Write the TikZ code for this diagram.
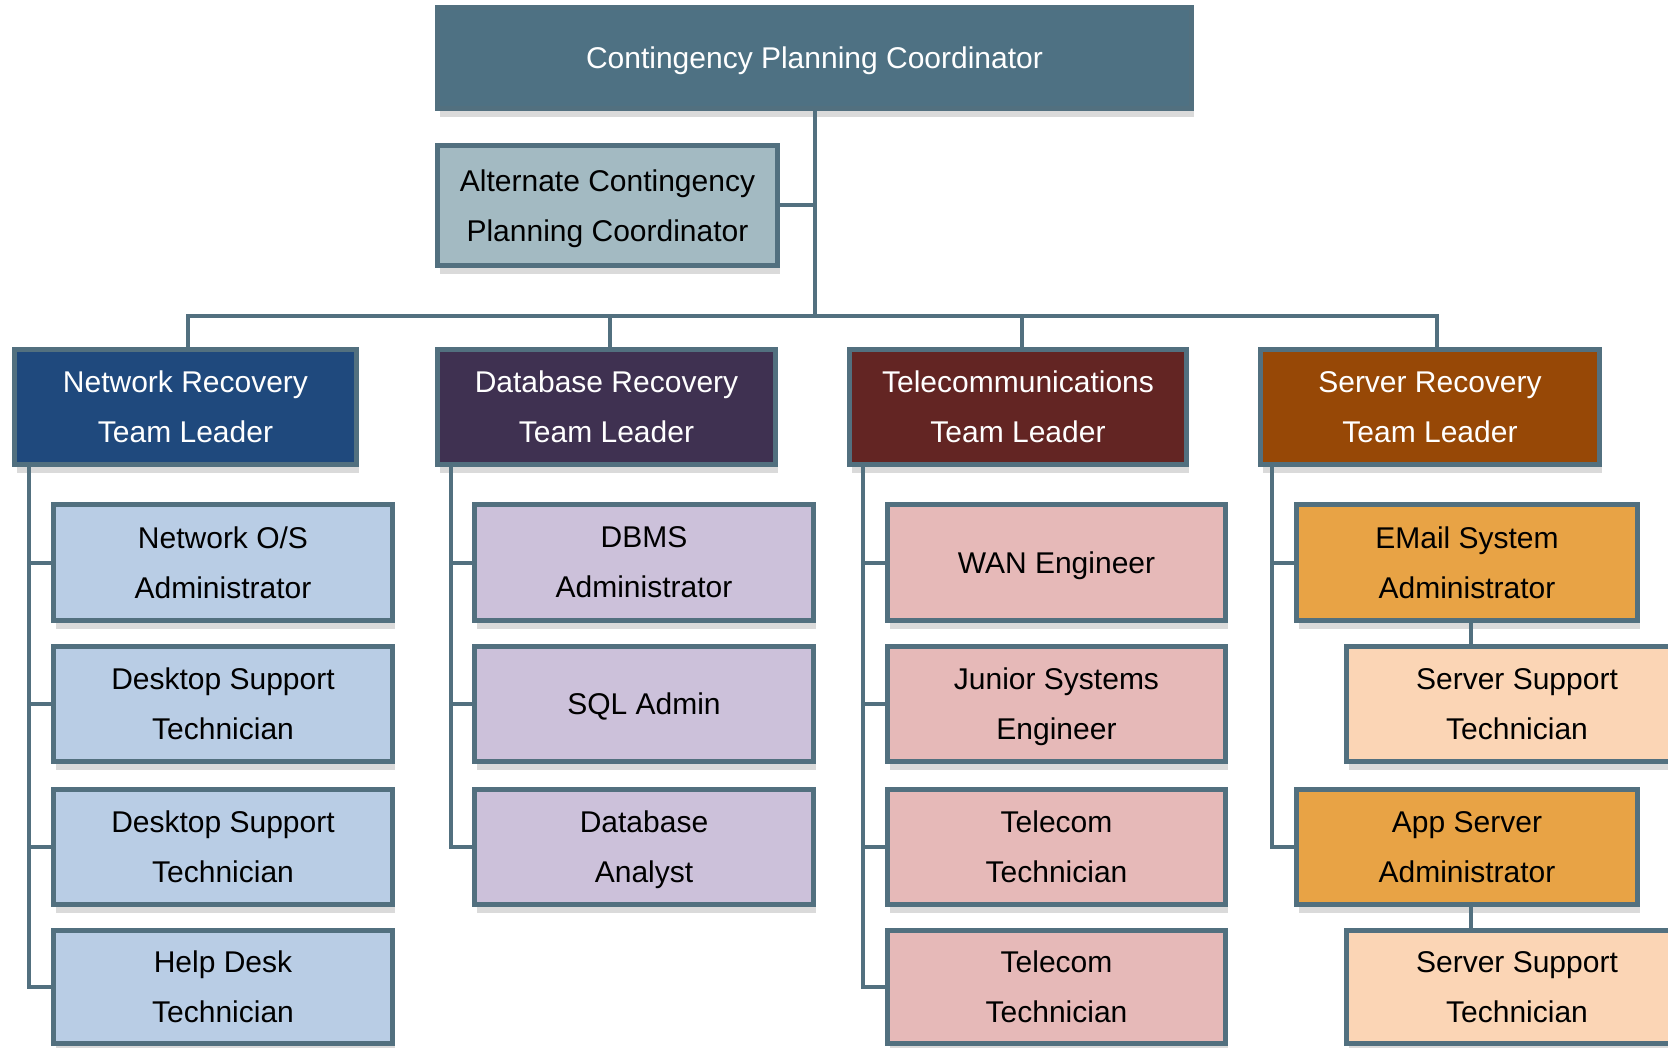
\documentclass[tikz,border=0pt]{standalone}
\usepackage{fontspec}
\setmainfont{Liberation Sans}
\usetikzlibrary{backgrounds}
\definecolor{bordc}{HTML}{52707F}
\definecolor{shadc}{HTML}{DADADA}
\definecolor{topc}{HTML}{4E7183}
\definecolor{altc}{HTML}{A3BAC2}
\definecolor{netL}{HTML}{1F497D}
\definecolor{dbL}{HTML}{3F3151}
\definecolor{telL}{HTML}{632523}
\definecolor{srvL}{HTML}{974806}
\definecolor{netC}{HTML}{B9CDE5}
\definecolor{dbC}{HTML}{CCC1DA}
\definecolor{telC}{HTML}{E6B9B8}
\definecolor{srvC}{HTML}{E8A345}
\definecolor{srvS}{HTML}{FBD5B5}
\tikzset{
  box/.style={rectangle, draw=bordc, line width=5pt, inner sep=0pt, align=center,
    text depth=-6pt, font=\fontsize{30}{50}\selectfont},
  conn/.style={draw=bordc, line width=4pt}
}
\newcommand\bx[8]{%
  \begin{pgfonlayer}{background}
  \fill[shadc] ({#2+5},#5) rectangle (#4,{#5+6});
  \end{pgfonlayer}
  \node[box, fill=#6, text=#7, minimum width={(#4-#2-5)*1pt}, minimum height={(#5-#3-5)*1pt}]
    (#1) at ({(#2+#4)/2},{(#3+#5)/2}) {#8};}
\begin{document}
\begin{tikzpicture}[x=1pt,y=-1pt]
\useasboundingbox (0,0) rectangle (1668,1048);
\clip (0,0) rectangle (1668,1048);
% top
\bx{top}{435}{5}{1194}{111}{topc}{white}{Contingency Planning Coordinator}
\bx{alt}{435}{143}{780}{268}{altc}{black}{Alternate Contingency\\Planning Coordinator}
% leaders
\bx{n0}{12}{347}{359}{467}{netL}{white}{Network Recovery\\Team Leader}
\bx{d0}{435}{347}{778}{467}{dbL}{white}{Database Recovery\\Team Leader}
\bx{t0}{847}{347}{1189}{467}{telL}{white}{Telecommunications\\Team Leader}
\bx{s0}{1258}{347}{1602}{467}{srvL}{white}{Server Recovery\\Team Leader}
% network column
\bx{n1}{51}{502}{395}{623}{netC}{black}{Network O/S\\Administrator}
\bx{n2}{51}{644}{395}{764}{netC}{black}{Desktop Support\\Technician}
\bx{n3}{51}{787}{395}{907}{netC}{black}{Desktop Support\\Technician}
\bx{n4}{51}{928}{395}{1046}{netC}{black}{Help Desk\\Technician}
% database column
\bx{d1}{472}{502}{816}{623}{dbC}{black}{DBMS\\Administrator}
\bx{d2}{472}{644}{816}{764}{dbC}{black}{SQL Admin}
\bx{d3}{472}{787}{816}{907}{dbC}{black}{Database\\Analyst}
% telecom column
\bx{t1}{885}{502}{1228}{623}{telC}{black}{WAN Engineer}
\bx{t2}{885}{644}{1228}{764}{telC}{black}{Junior Systems\\Engineer}
\bx{t3}{885}{787}{1228}{907}{telC}{black}{Telecom\\Technician}
\bx{t4}{885}{928}{1228}{1046}{telC}{black}{Telecom\\Technician}
% server column
\bx{se}{1294}{502}{1640}{623}{srvC}{black}{EMail System\\Administrator}
\bx{ss1}{1344}{644}{1690}{764}{srvS}{black}{Server Support\\Technician}
\bx{sa}{1294}{787}{1640}{907}{srvC}{black}{App Server\\Administrator}
\bx{ss2}{1344}{928}{1690}{1046}{srvS}{black}{Server Support\\Technician}
% connectors
\coordinate (busy) at (0,316);
\coordinate (p1) at (188,0);
\coordinate (p2) at (610,0);
\coordinate (p3) at (1022,0);
\coordinate (p4) at (1437,0);
\coordinate (b1) at (29,440);
\coordinate (b2) at (451,440);
\coordinate (b3) at (863,440);
\coordinate (b4) at (1272,440);
\coordinate (sx) at (1471,0);
\begin{pgfonlayer}{background}
\draw[conn] (top.south) -- (top.south |- busy);
\draw[conn] (alt.east) -- (alt.east -| top.south);
\draw[conn] (n0.north -| p1) |- (top.south |- busy) -| (s0.north -| p4);
\draw[conn] (d0.north -| p2) -- (p2 |- busy);
\draw[conn] (t0.north -| p3) -- (p3 |- busy);
% network
\draw[conn] (b1) |- (n4.west);
\draw[conn] (n1.west) -- (n1.west -| b1);
\draw[conn] (n2.west) -- (n2.west -| b1);
\draw[conn] (n3.west) -- (n3.west -| b1);
% database
\draw[conn] (b2) |- (d3.west);
\draw[conn] (d1.west) -- (d1.west -| b2);
\draw[conn] (d2.west) -- (d2.west -| b2);
% telecom
\draw[conn] (b3) |- (t4.west);
\draw[conn] (t1.west) -- (t1.west -| b3);
\draw[conn] (t2.west) -- (t2.west -| b3);
\draw[conn] (t3.west) -- (t3.west -| b3);
% server
\draw[conn] (b4) |- (sa.west);
\draw[conn] (se.west) -- (se.west -| b4);
\draw[conn] (se.south -| sx) -- (ss1.north -| sx);
\draw[conn] (sa.south -| sx) -- (ss2.north -| sx);
\end{pgfonlayer}
\end{tikzpicture}
\end{document}
